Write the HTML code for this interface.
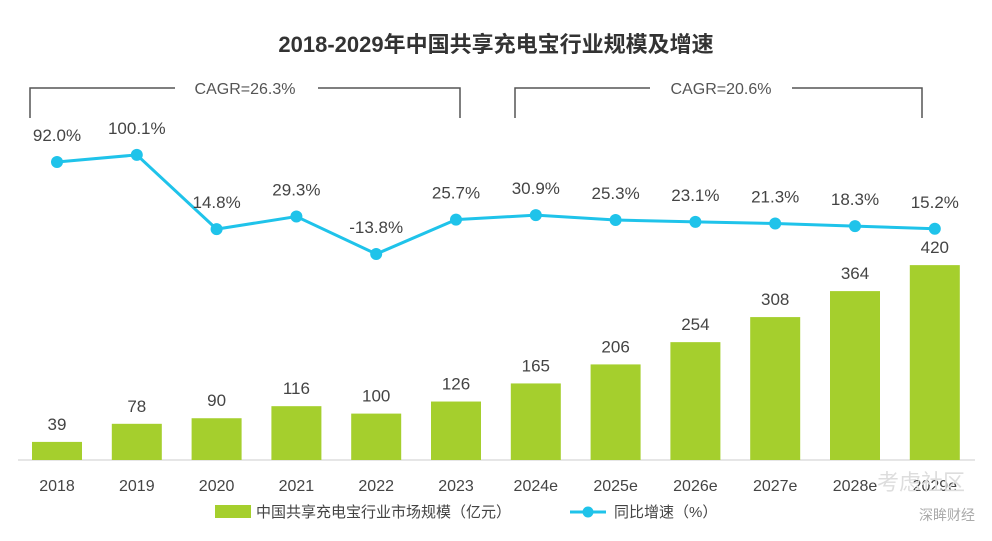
<!DOCTYPE html>
<html><head><meta charset="utf-8"><style>
body{margin:0;background:#fff;width:992px;height:536px;overflow:hidden;font-family:"Liberation Sans","Noto Sans CJK SC",sans-serif;}
svg text{font-family:"Liberation Sans","Noto Sans CJK SC",sans-serif;}
</style></head><body>
<svg width="992" height="536">
<text x="496" y="52" text-anchor="middle" font-size="22" font-weight="bold" fill="#333">2018-2029年中国共享充电宝行业规模及增速</text>
<g fill="none" stroke="#555" stroke-width="1.5">
<path d="M30,118 V88 H175 M318,88 H460 V118"/>
<path d="M515,118 V88 H650 M792,88 H922 V118"/>
</g>
<text x="245" y="94" text-anchor="middle" font-size="16" fill="#555">CAGR=26.3%</text>
<text x="721" y="94" text-anchor="middle" font-size="16" fill="#555">CAGR=20.6%</text>
<line x1="18" y1="460" x2="975" y2="460" stroke="#ccc"/>
<g id="bars"></g><g id="line"></g><g id="xl"></g>
<rect x="215" y="505" width="36" height="13" fill="#a5cf2d"/>
<text x="256" y="517" font-size="15" fill="#444">中国共享充电宝行业市场规模（亿元）</text>
<line x1="570" y1="512" x2="606" y2="512" stroke="#1fc3ea" stroke-width="3"/>
<circle cx="588" cy="512" r="5.5" fill="#1fc3ea"/>
<text x="614" y="517" font-size="15" fill="#444">同比增速（%）</text>
<text x="965" y="490" text-anchor="end" font-size="22" fill="#ddd">考虑社区</text>
<text x="975" y="520" text-anchor="end" font-size="14" fill="#aaa">深眸财经</text>
</svg>
<script>
const categories=["2018","2019","2020","2021","2022","2023","2024e","2025e","2026e","2027e","2028e","2029e"];
const marketSize=[39,78,90,116,100,126,165,206,254,308,364,420];
const growth=[92.0,100.1,14.8,29.3,-13.8,25.7,30.9,25.3,23.1,21.3,18.3,15.2];
const growthLabels=["92.0%","100.1%","14.8%","29.3%","-13.8%","25.7%","30.9%","25.3%","23.1%","21.3%","18.3%","15.2%"];
const NS="http://www.w3.org/2000/svg";
const xC=i=>57+i*79.8;
const yBar=v=>460-v*0.464;
const yLine=v=>242-v*0.87;
function mk(t,a,p,txt){const e=document.createElementNS(NS,t);for(const k in a)e.setAttribute(k,a[k]);if(txt!==undefined)e.textContent=txt;p.appendChild(e);return e;}
const gb=document.getElementById('bars'),gl=document.getElementById('line'),gx=document.getElementById('xl');
categories.forEach((c,i)=>{
 const v=marketSize[i];
 const r=mk('rect',{x:xC(i)-25,y:yBar(v),width:50,height:460-yBar(v),fill:'#a5cf2d'},gb);
 
 
 const t=mk('text',{x:xC(i),y:yBar(v)-12,'text-anchor':'middle','font-size':17,fill:'#444'},gb,String(v));
 
 
 const xt=mk('text',{x:xC(i),y:491,'text-anchor':'middle','font-size':16,fill:'#444'},gx,c);
 
 
});
const pl=mk('polyline',{points:growth.map((g,i)=>xC(i)+','+yLine(g)).join(' '),fill:'none',stroke:'#1fc3ea','stroke-width':3},gl);


growth.forEach((g,i)=>{
 const d=mk('circle',{cx:xC(i),cy:yLine(g),r:6,fill:'#1fc3ea'},gl);
 
 
 const t=mk('text',{x:xC(i),y:yLine(g)-21,'text-anchor':'middle','font-size':17,fill:'#444'},gl,growthLabels[i]);
 
 
});
</script>
</body></html>
